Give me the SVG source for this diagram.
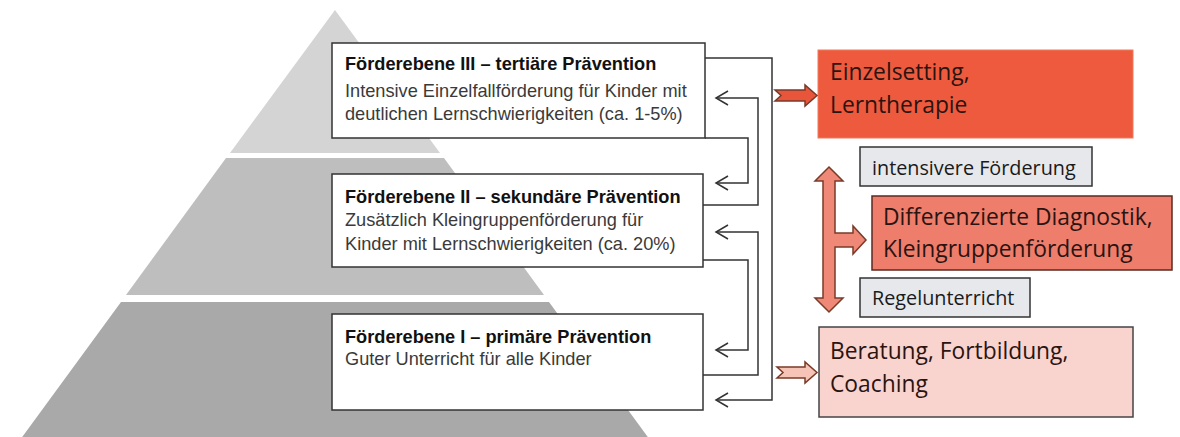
<svg xmlns="http://www.w3.org/2000/svg" width="1180" height="437" viewBox="0 0 1180 437">
<defs>
<style>
.lvl{fill:#fff;stroke:#333;stroke-width:1.5}
.tt{font-family:"Liberation Sans",Arial,sans-serif;font-size:18.2px;font-weight:bold;fill:#111}
.tx{font-family:"Liberation Sans",Arial,sans-serif;font-size:18.2px;fill:#3a3a3a}
.con{fill:none;stroke:#333;stroke-width:1.5}
.rt{font-family:"Open Sans","Noto Sans",sans-serif;font-size:22.8px;fill:#2a1410}
.gt{font-family:"Open Sans","Noto Sans",sans-serif;font-size:19.8px;fill:#1a1a1a}
.gbox{fill:#e6e8ec;stroke:#333;stroke-width:1.5}
.barrow{stroke:#7a3a28;stroke-width:1.5;stroke-linejoin:miter}
</style>
<marker id="ah" markerUnits="userSpaceOnUse" markerWidth="16" markerHeight="18" refX="0" refY="0" viewBox="-14 -9 16 18" orient="auto">
<path d="M-12,-7 L0,0 L-12,7" fill="none" stroke="#333" stroke-width="1.5"/>
</marker>
</defs>
<g id="pyramid">
<polygon points="335,10 440,153 230,153" fill="#d4d4d4"/>
<polygon points="226,158 444,158 544,295 126,295" fill="#bebebe"/>
<polygon points="121,302 549,302 650,440 20,440" fill="#a9a9a9"/>
</g>
<g id="level3">
<rect class="lvl" x="332" y="43" width="373" height="95"/>
<text class="tt" x="345" y="70">Förderebene III – tertiäre Prävention</text>
<text class="tx" x="345" y="97">Intensive Einzelfallförderung für Kinder mit</text>
<text class="tx" x="345" y="120">deutlichen Lernschwierigkeiten (ca. 1-5%)</text>
</g>
<g id="level2">
<rect class="lvl" x="332" y="174" width="371" height="93"/>
<text class="tt" x="345" y="203">Förderebene II – sekundäre Prävention</text>
<text class="tx" x="345" y="226">Zusätzlich Kleingruppenförderung für</text>
<text class="tx" x="345" y="250">Kinder mit Lernschwierigkeiten (ca. 20%)</text>
</g>
<g id="level1">
<rect class="lvl" x="332" y="314" width="371" height="96"/>
<text class="tt" x="345" y="343">Förderebene I – primäre Prävention</text>
<text class="tx" x="345" y="365">Guter Unterricht für alle Kinder</text>
</g>
<g id="connectors">
<path class="con" d="M705,58 H772 V400 H716" marker-end="url(#ah)"/>
<path class="con" d="M703,205 H758 V98 H716" marker-end="url(#ah)"/>
<path class="con" d="M705,138 H748 V183 H716" marker-end="url(#ah)"/>
<path class="con" d="M703,375 H758 V232 H716" marker-end="url(#ah)"/>
<path class="con" d="M703,260 H748 V350 H716" marker-end="url(#ah)"/>
</g>
<g id="einzelsetting">
<rect x="818" y="50" width="315" height="88" fill="#ee5a3e" stroke="#f07a5c" stroke-width="1"/>
<text class="rt" x="830" y="80">Einzelsetting,</text>
<text class="rt" x="830" y="113">Lerntherapie</text>
</g>
<g id="arrow-einzel">
<polygon class="barrow" points="775,90 805,90 805,85 817,95.5 805,106 805,101 775,101 781,95.5" fill="#e8553a"/>
</g>
<g id="intensivere">
<rect class="gbox" x="860" y="147" width="232" height="39"/>
<text class="gt" x="872" y="175">intensivere Förderung</text>
</g>
<g id="double-arrow">
<polygon class="barrow" fill="#ef8877" points="829,167 843,181 835,181 835,233 853,233 853,226 866,240 853,254 853,247 835,247 835,298 843,298 829,312 815,298 823,298 823,181 815,181"/>
</g>
<g id="differenzierte">
<rect x="872" y="196" width="300" height="74" fill="#ef7d6c" stroke="#5a2a20" stroke-width="1.5"/>
<text class="rt" x="883" y="225">Differenzierte Diagnostik,</text>
<text class="rt" x="883" y="257">Kleingruppenförderung</text>
</g>
<g id="regelunterricht">
<rect class="gbox" x="860" y="278" width="170" height="39"/>
<text class="gt" x="872" y="305">Regelunterricht</text>
</g>
<g id="arrow-beratung">
<polygon class="barrow" points="777,367 805,367 805,362 817,372.5 805,383 805,378 777,378 783,372.5" fill="#f6c4b6"/>
</g>
<g id="beratung">
<rect x="819" y="327" width="314" height="90" fill="#f9d3ce" stroke="#444" stroke-width="1.5"/>
<text class="rt" x="830" y="359">Beratung, Fortbildung,</text>
<text class="rt" x="830" y="392">Coaching</text>
</g>
</svg>
